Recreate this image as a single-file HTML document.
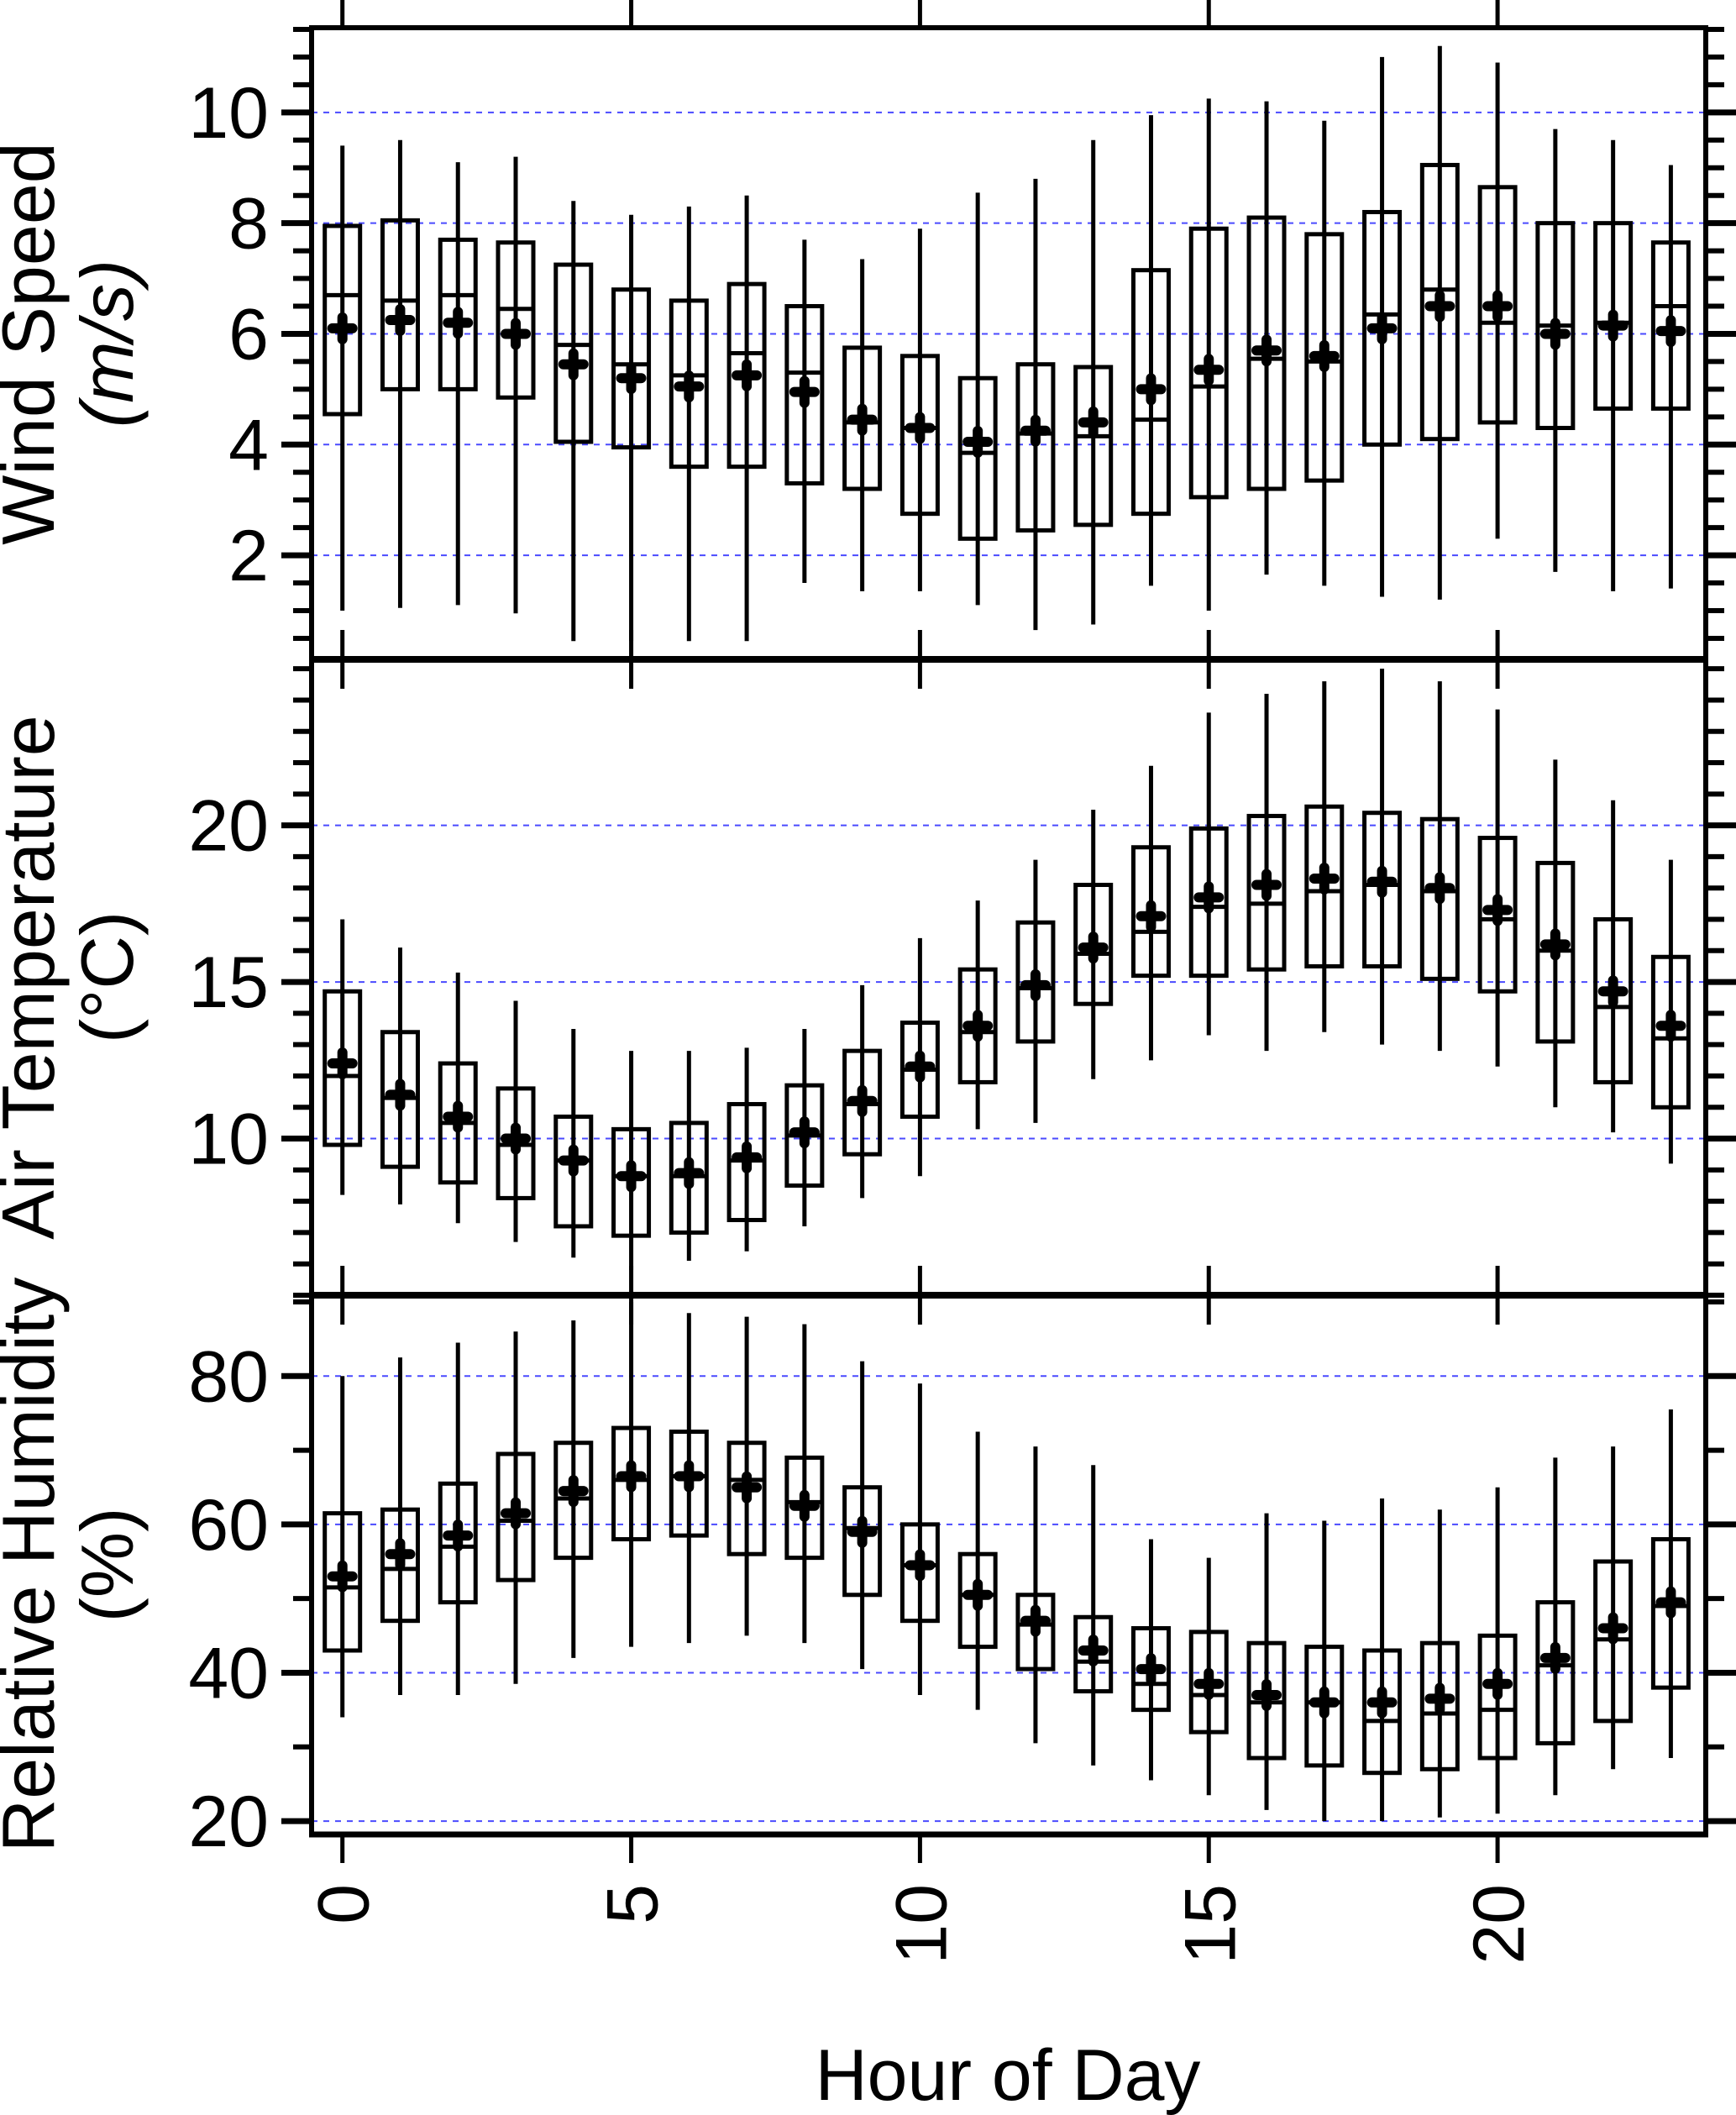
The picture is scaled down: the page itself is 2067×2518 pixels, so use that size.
<!DOCTYPE html>
<html><head><meta charset="utf-8"><style>
html,body{margin:0;padding:0;background:#fff;}
svg{display:block;}
text{font-family:"Liberation Sans",sans-serif;fill:#000;}
</style></head><body>
<svg id="chart" width="2067" height="2518" viewBox="0 0 2067 2518" xmlns="http://www.w3.org/2000/svg"></svg>
<script>
const hours = [0,1,2,3,4,5,6,7,8,9,10,11,12,13,14,15,16,17,18,19,20,21,22,23];
const xTicks = [0,5,10,15,20];
// Wind speed
const windLo  = [1.0,1.05,1.1,0.95,0.45,0.45,0.45,0.45,1.5,1.35,1.35,1.1,0.65,0.75,1.45,1.0,1.65,1.45,1.25,1.2,2.3,1.7,1.35,1.4];
const windQ1  = [4.55,5.0,5.0,4.85,4.05,3.95,3.6,3.6,3.3,3.2,2.75,2.3,2.45,2.55,2.75,3.05,3.2,3.35,4.0,4.1,4.4,4.3,4.65,4.65];
const windMed = [6.7,6.6,6.7,6.45,5.8,5.45,5.25,5.65,5.3,4.4,4.3,3.85,4.2,4.15,4.45,5.05,5.55,5.5,6.35,6.8,6.2,6.15,6.2,6.5];
const windQ3  = [7.95,8.05,7.7,7.65,7.25,6.8,6.6,6.9,6.5,5.75,5.6,5.2,5.45,5.4,7.15,7.9,8.1,7.8,8.2,9.05,8.65,8.0,8.0,7.65];
const windHi  = [9.4,9.5,9.1,9.2,8.4,8.15,8.3,8.5,7.7,7.35,7.9,8.55,8.8,9.5,9.95,10.25,10.2,9.85,11.0,11.2,10.9,9.7,9.5,9.05];
const windMean= [6.1,6.25,6.2,6.0,5.45,5.2,5.05,5.25,4.95,4.45,4.3,4.05,4.25,4.4,5.0,5.35,5.7,5.6,6.1,6.5,6.5,6.0,6.15,6.05];
const windTicks = [2,4,6,8,10];
// Air temperature
const tempLo  = [8.2,7.9,7.3,6.7,6.2,5.8,6.1,6.4,7.2,8.1,8.8,10.3,10.5,11.9,12.5,13.3,12.8,13.4,13.0,12.8,12.3,11.0,10.2,9.2];
const tempQ1  = [9.8,9.1,8.6,8.1,7.2,6.9,7.0,7.4,8.5,9.5,10.7,11.8,13.1,14.3,15.2,15.2,15.4,15.5,15.5,15.1,14.7,13.1,11.8,11.0];
const tempMed = [12.0,11.3,10.5,9.8,9.3,8.8,8.8,9.3,10.1,11.1,12.2,13.4,14.8,15.9,16.6,17.4,17.5,17.9,18.1,17.9,17.0,16.0,14.2,13.2];
const tempQ3  = [14.7,13.4,12.4,11.6,10.7,10.3,10.5,11.1,11.7,12.8,13.7,15.4,16.9,18.1,19.3,19.9,20.3,20.6,20.4,20.2,19.6,18.8,17.0,15.8];
const tempHi  = [17.0,16.1,15.3,14.4,13.5,12.8,12.8,12.9,13.5,14.9,16.4,17.6,18.9,20.5,21.9,23.6,24.2,24.6,25.0,24.6,23.7,22.1,20.8,18.9];
const tempMean= [12.4,11.4,10.7,10.0,9.3,8.8,8.9,9.4,10.2,11.2,12.3,13.6,14.9,16.1,17.1,17.7,18.1,18.3,18.2,18.0,17.3,16.2,14.7,13.6];
const tempTicks = [10,15,20];
// Relative humidity
const rhLo  = [34,37,37,38.5,42,43.5,44,45,44,40.5,37,35,30.5,27.5,25.5,23.5,21.5,20,20,20.5,21,23.5,27,28.5];
const rhQ1  = [43,47,49.5,52.5,55.5,58,58.5,56,55.5,50.5,47,43.5,40.5,37.5,35,32,28.5,27.5,26.5,27,28.5,30.5,33.5,38];
const rhMed = [51.5,54,57,60.5,63.5,66,66.5,66,63,59.5,54.5,50.5,46.5,41.5,38.5,37,36,36,33.5,34.5,35,41,44.5,49];
const rhQ3  = [61.5,62,65.5,69.5,71,73,72.5,71,69,65,60,56,50.5,47.5,46,45.5,44,43.5,43,44,45,49.5,55,58];
const rhHi  = [80,82.5,84.5,86,87.5,90,88.5,88,87,82,79,72.5,70.5,68,58,55.5,61.5,60.5,63.5,62,65,69,70.5,75.5];
const rhMean= [53,56,58.5,61.5,64.5,66.5,66.5,65,62.5,59,54.5,50.5,47,43,40.5,38.5,37,36,36,36.5,38.5,42,46,49.5];
const rhTicks = [20,40,60,80];

const NS="http://www.w3.org/2000/svg";
const svg=document.getElementById('chart');
const L=371,R=2031;
function xs(h){return 407.7+h*68.77;}
function el(tag,attrs,parent){const e=document.createElementNS(NS,tag);for(const k in attrs)e.setAttribute(k,attrs[k]);(parent||svg).appendChild(e);return e;}

const panels=[
 {name:'wind',top:33,bot:785,vTop:11.53,vBot:0.12,minor:0.5,ticks:windTicks,lo:windLo,q1:windQ1,med:windMed,q3:windQ3,hi:windHi,mean:windMean,title:['Wind Speed','(m/s)'],italic:true},
 {name:'temp',top:785,bot:1542,vTop:25.3,vBot:5.0,minor:1,ticks:tempTicks,lo:tempLo,q1:tempQ1,med:tempMed,q3:tempQ3,hi:tempHi,mean:tempMean,title:['Air Temperature','(°C)'],italic:false},
 {name:'humidity',top:1542,bot:2184,vTop:90.9,vBot:18.2,minor:10,ticks:rhTicks,lo:rhLo,q1:rhQ1,med:rhMed,q3:rhQ3,hi:rhHi,mean:rhMean,title:['Relative Humidity','(%)'],italic:false}
];

panels.forEach((p,pi)=>{
  const g=el('g',{});
  
  
  const ys=v=>p.top+(p.vTop-v)/(p.vTop-p.vBot)*(p.bot-p.top);
  p.ticks.forEach(t=>{
    const gl=el('line',{x1:L,x2:R,y1:ys(t),y2:ys(t),stroke:'#4a4aff','stroke-width':2,'stroke-dasharray':'7,7'},g);
    
    
  });
  const start=Math.ceil(p.vBot/p.minor)*p.minor;
  for(let v=start; v<=p.vTop+1e-9; v+=p.minor){
    const vv=Math.round(v*100)/100;
    const major=p.ticks.indexOf(vv)>=0;
    const len=major?36:22;
    el('line',{x1:L-len,x2:L,y1:ys(vv),y2:ys(vv),stroke:'#000','stroke-width':major?7:6},g);
    el('line',{x1:R,x2:R+len,y1:ys(vv),y2:ys(vv),stroke:'#000','stroke-width':major?7:6},g);
  }
  p.ticks.forEach(t=>{
    const tl=el('text',{x:320,y:ys(t)+30,'text-anchor':'end','font-size':86},g);
    tl.textContent=t;
    
    
  });
  const cy=(p.top+p.bot)/2;
  const t1=el('text',{x:0,y:0,'text-anchor':'middle','font-size':88,transform:`translate(64,${cy}) rotate(-90)`},g);
  t1.textContent=p.title[0];
  
  
  const t2=el('text',{x:0,y:0,'text-anchor':'middle','font-size':88,'font-style':p.italic?'italic':'normal',transform:`translate(158,${cy}) rotate(-90)`},g);
  t2.textContent=p.title[1];
  
  
  hours.forEach((h,i)=>{
    const x=xs(h);
    const bg=el('g',{},g);
    
    
    el('line',{x1:x,x2:x,y1:ys(p.hi[i]),y2:ys(p.lo[i]),stroke:'#000','stroke-width':5},bg);
    el('rect',{x:x-21,y:ys(p.q3[i]),width:42,height:ys(p.q1[i])-ys(p.q3[i]),fill:'none',stroke:'#000','stroke-width':5},bg);
    el('line',{x1:x-21,x2:x+21,y1:ys(p.med[i]),y2:ys(p.med[i]),stroke:'#000','stroke-width':5},bg);
    const my=ys(p.mean[i]);
    el('line',{x1:x-12,x2:x+12,y1:my,y2:my,stroke:'#000','stroke-width':12,'stroke-linecap':'round'},bg);
    el('line',{x1:x,x2:x,y1:my-13,y2:my+13,stroke:'#000','stroke-width':12,'stroke-linecap':'round'},bg);
  });
  xTicks.forEach(h=>{
    const x=xs(h);
    if(pi===0) el('line',{x1:x,x2:x,y1:0,y2:p.top,stroke:'#000','stroke-width':5},g);
    if(pi<2) el('line',{x1:x,x2:x,y1:p.bot-35,y2:p.bot+35,stroke:'#000','stroke-width':5},g);
    if(pi===2) el('line',{x1:x,x2:x,y1:p.bot,y2:p.bot+34,stroke:'#000','stroke-width':5},g);
  });
  const fr=el('rect',{x:L,y:p.top,width:R-L,height:p.bot-p.top,fill:'none',stroke:'#000','stroke-width':6},g);
  
  
});
[785,1542].forEach(y=>{el('line',{x1:L-3,x2:R+3,y1:y,y2:y,stroke:'#000','stroke-width':8});});
el('line',{x1:L-3,x2:R+3,y1:2184,y2:2184,stroke:'#000','stroke-width':7});
xTicks.forEach(h=>{
  const t=el('text',{x:0,y:0,'text-anchor':'end','font-size':86,transform:`translate(${xs(h)+31},2243) rotate(-90)`});
  t.textContent=h;
  
  
});
const xt=el('text',{x:1200,y:2500,'text-anchor':'middle','font-size':86});
xt.textContent='Hour of Day';


</script>
</body></html>
